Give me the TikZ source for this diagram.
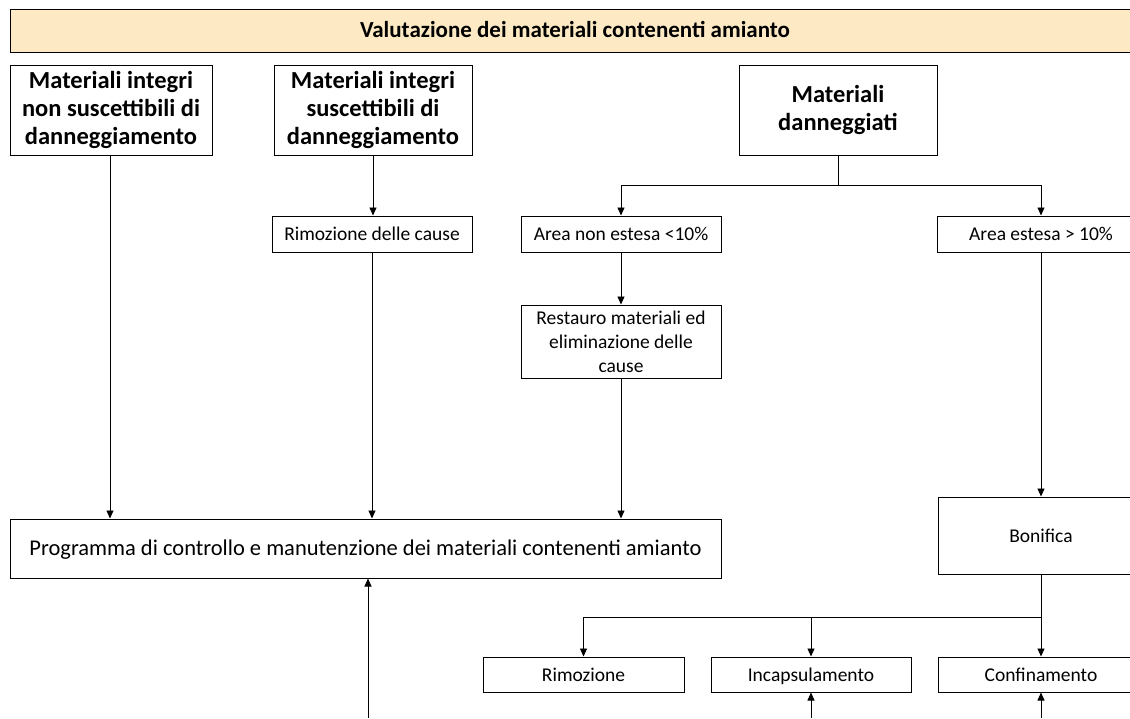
\documentclass[tikz,border=0pt]{standalone}
\usepackage{fontspec}
\setmainfont{Carlito}
\usetikzlibrary{arrows.meta}
\definecolor{titlefill}{RGB}{253,234,196}
\tikzset{
  box/.style={draw=black, line width=1pt, fill=white, inner sep=2pt},
  bigbox/.style={box, align=center, font=\bfseries\fontsize{24.5}{28}\selectfont},
  smallbox/.style={box, font=\fontsize{19.5}{24}\selectfont, text height=16pt, text depth=3pt},
  multibox/.style={box, align=center, font=\fontsize{19.5}{24}\selectfont},
  conn/.style={draw=black, line width=0.9pt},
  arr/.style={conn, -{Triangle[length=8pt,width=7pt]}}
}
\begin{document}
\begin{tikzpicture}[x=1pt,y=-1pt]
\useasboundingbox (0,0) rectangle (1130,718);
\clip (0,0) rectangle (1130,718);
\fill[white] (0,0) rectangle (1130,718);
% title
\node[box, fill=titlefill, minimum width=1130pt, minimum height=43pt, text height=18pt, text depth=4pt, font=\bfseries\fontsize{23}{26}\selectfont] (title) at (575,30.5) {Valutazione dei materiali contenenti amianto};
% top boxes
\node[bigbox, minimum width=202pt, minimum height=90pt] (A) at (111,110) {Materiali integri\\non suscettibili di\\danneggiamento};
\node[bigbox, minimum width=198pt, minimum height=90pt] (B) at (373,110) {Materiali integri\\suscettibili di\\danneggiamento};
\node[bigbox, minimum width=198pt, minimum height=90pt] (C) at (838,110) {Materiali\\danneggiati};
% second row
\node[smallbox, minimum width=200pt, minimum height=36pt] (cause) at (372,234) {Rimozione delle cause};
\node[smallbox, minimum width=200pt, minimum height=36pt] (nonest) at (621,234) {Area non estesa <10\%};
\node[smallbox, minimum width=208pt, minimum height=36pt] (est) at (1041,234) {Area estesa > 10\%};
\node[multibox, minimum width=200pt, minimum height=73pt] (rest) at (621,341.5) {Restauro materiali ed\\eliminazione delle\\cause};
% programma
\node[box, minimum width=711pt, minimum height=59pt, text height=18pt, text depth=4pt, font=\fontsize{22.5}{26}\selectfont] (prog) at (365.5,548.5) {Programma di controllo e manutenzione dei materiali contenenti amianto};
\node[smallbox, minimum width=206pt, minimum height=77pt] (bon) at (1041,535.5) {Bonifica};
% bottom row
\node[smallbox, minimum width=201pt, minimum height=35pt] (rim) at (583.5,674.5) {Rimozione};
\node[smallbox, minimum width=200pt, minimum height=35pt] (inc) at (811,674.5) {Incapsulamento};
\node[smallbox, minimum width=206pt, minimum height=35pt] (conf) at (1041,674.5) {Confinamento};
% coordinates
\coordinate (splitC) at (838,185);
\coordinate (splitB) at (1041,617);
\coordinate (in1) at (368,718);
\coordinate (in2) at (811,718);
\coordinate (in3) at (1041,718);
% connectors
\draw[arr] (A.south -| 110,0) -- (110,0 |- prog.north);
\draw[arr] (B.south) -- (cause.north -| B.south);
\draw[arr] (cause.south) -- (cause.south |- prog.north);
\draw[conn] (C.south) -- (splitC);
\draw[arr] (splitC) -| (nonest.north);
\draw[arr] (splitC) -| (est.north);
\draw[arr] (nonest.south) -- (rest.north);
\draw[arr] (rest.south) -- (rest.south |- prog.north);
\draw[arr] (est.south) -- (bon.north);
\draw[conn] (bon.south) -- (splitB);
\draw[arr] (splitB) -| (rim.north);
\draw[arr] (splitB) -| (inc.north);
\draw[arr] (splitB) -- (conf.north);
\draw[arr] (in1) -- (in1 |- prog.south);
\draw[arr] (in2) -- (inc.south);
\draw[arr] (in3) -- (conf.south);
\end{tikzpicture}
\end{document}
